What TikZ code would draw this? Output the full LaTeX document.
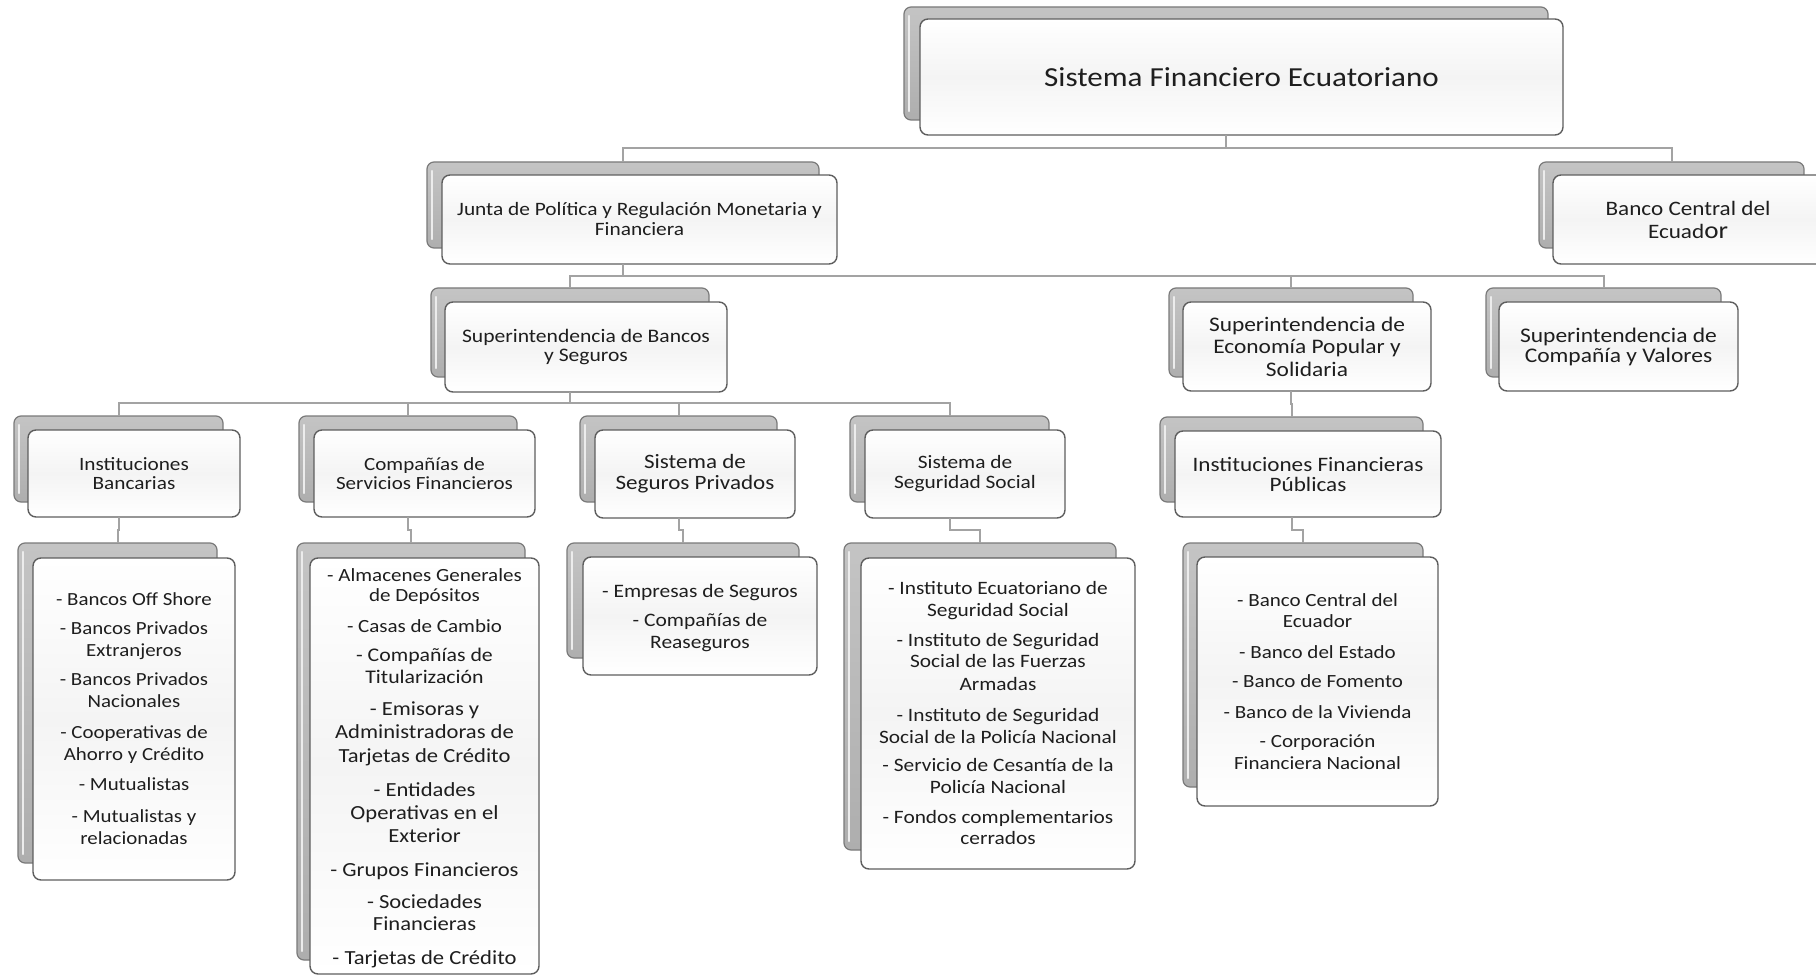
\documentclass[tikz,border=0pt]{standalone}
\usepackage{fontspec}
\setmainfont{Carlito}[FakeStretch=1.13]
\usetikzlibrary{fit}
\definecolor{conncol}{HTML}{A3A3A3}
\definecolor{backtop}{HTML}{C4C4C4}
\definecolor{backbot}{HTML}{AEAEAE}
\definecolor{backline}{HTML}{7A7A7A}
\definecolor{frontline}{HTML}{5E5E5E}
\definecolor{frontmid}{HTML}{F4F4F4}
\definecolor{hilite}{HTML}{ECECEC}
\definecolor{txt}{HTML}{1E1E1E}
\newcommand\setfs[2]{\fontsize{#1}{#2}\selectfont\lineskiplimit=-100pt\relax}
\newcommand\Lg{\fontsize{20}{20}\selectfont}
\newcommand\Md{\fontsize{19.3}{20}\selectfont}
\tikzset{
  backbox/.style={draw=backline, line width=1.2, rounded corners=7, top color=backtop, bottom color=backbot, inner sep=0pt, outer sep=0pt},
  frontbox/.style={draw=frontline, line width=1.4, rounded corners=8, top color=white, bottom color=white, middle color=frontmid, inner sep=0pt, outer sep=0pt},
  boxtext/.style={inner sep=0pt, align=center, text=txt, anchor=center},
  conn/.style={draw=conncol, line width=2},
  bevel/.style={draw=hilite, line width=2.2, line cap=round},
}
\begin{document}
\begin{tikzpicture}[x=1pt,y=-1pt]
\useasboundingbox (0,0) rectangle (1816,976);
\fill[white] (0,0) rectangle (1816,976);

% back boxes
\node[backbox, fit={(904,7) (1548,120)}] (mainB) {};
\node[backbox, fit={(427,162) (819,248)}] (junB) {};
\node[backbox, fit={(1539,162) (1804,248)}] (bceB) {};
\node[backbox, fit={(431,288) (709,377)}] (sbsB) {};
\node[backbox, fit={(1169,288) (1413,377)}] (sepsB) {};
\node[backbox, fit={(1486,288) (1721,377)}] (scvB) {};
\node[backbox, fit={(14,416) (223,502)}] (ibB) {};
\node[backbox, fit={(299,416) (517,502)}] (csfB) {};
\node[backbox, fit={(580,416) (777,502)}] (sspB) {};
\node[backbox, fit={(850,416) (1049,502)}] (sssB) {};
\node[backbox, fit={(1160,417) (1423,502)}] (ifpB) {};
\node[backbox, fit={(18,543) (217,863)}] (ibcB) {};
\node[backbox, fit={(297,543) (525,960)}] (csfcB) {};
\node[backbox, fit={(567,543) (799,658)}] (sspcB) {};
\node[backbox, fit={(844,543) (1116,850)}] (ssscB) {};
\node[backbox, fit={(1183,543) (1423,787)}] (ifpcB) {};
\foreach \n in {mainB,junB,bceB,sbsB,sepsB,scvB,ibB,csfB,sspB,sssB,ifpB,ibcB,csfcB,sspcB,ssscB,ifpcB}
  \draw[bevel] ([xshift=5pt,yshift=-9pt]\n.north west) -- ([xshift=5pt,yshift=9pt]\n.south west);

% level 0
\node[frontbox, fit={(920,19) (1563,135)}] (mainF) {};
\node[boxtext, font=\setfs{27.5}{30}] (mainT) at (mainF.center) {Sistema Financiero Ecuatoriano};

% level 1
\node[frontbox, fit={(442,175) (837,264)}] (junF) {};
\node[boxtext, font=\setfs{18.9}{20}] (junT) at (junF.center) {Junta de Política y Regulación Monetaria y\\Financiera};
\node[frontbox, fit={(1553,175) (1830,264)}] (bceF) {};
\node[boxtext, font=\setfs{20.5}{23}] (bceT) at (1688,219.5) {Banco Central del\\Ecuad{\fontsize{24}{24}\selectfont or}};

% level 2
\node[frontbox, fit={(445,302) (727,392)}] (sbsF) {};
\node[boxtext, font=\setfs{19.1}{19}] (sbsT) at (sbsF.center) {Superintendencia de Bancos\\y Seguros};
\node[frontbox, fit={(1183,302) (1431,391)}] (sepsF) {};
\node[boxtext, font=\setfs{20.7}{22.5}] (sepsT) at (sepsF.center) {Superintendencia de\\Economía Popular y\\Solidaria};
\node[frontbox, fit={(1499,302) (1738,391)}] (scvF) {};
\node[boxtext, font=\setfs{20.8}{20}] (scvT) at (scvF.center) {Superintendencia de\\Compañía y Valores};

% level 3
\node[frontbox, fit={(28,430) (240,517)}] (ibF) {};
\node[boxtext, font=\setfs{18.8}{18.5}] (ibT) at (ibF.center) {Instituciones\\Bancarias};
\node[frontbox, fit={(314,430) (535,517)}] (csfF) {};
\node[boxtext, font=\setfs{18.6}{18.5}] (csfT) at (csfF.center) {Compañías de\\Servicios Financieros};
\node[frontbox, fit={(595,430) (795,518)}] (sspF) {};
\node[boxtext, font=\setfs{20.4}{21}] (sspT) at (sspF.center) {Sistema de\\Seguros Privados};
\node[frontbox, fit={(865,430) (1065,518)}] (sssF) {};
\node[boxtext, font=\setfs{18.9}{20}] (sssT) at (sssF.center) {Sistema de\\Seguridad Social};
\node[frontbox, fit={(1175,431) (1441,517)}] (ifpF) {};
\node[boxtext, font=\setfs{20.5}{20}] (ifpT) at (ifpF.center) {Instituciones Financieras\\Públicas};

% level 4 (lists)
\node[frontbox, fit={(33,558) (235,880)}] (ibcF) {};
\node[boxtext, font=\setfs{18.5}{22}] (ibcT) at (ibcF.center) {- Bancos Off Shore\\[7pt]- Bancos Privados\\Extranjeros\\[7pt]- Bancos Privados\\Nacionales\\[9pt]- Cooperativas de\\Ahorro y Crédito\\[8pt]- Mutualistas\\[10pt]- Mutualistas y\\relacionadas};

\node[frontbox, fit={(310,558) (539,974)}] (csfcF) {};
\node[boxtext, font=\setfs{18.6}{20}] (csfcT) at ([yshift=-2pt]csfcF.center) {- Almacenes Generales\\de Depósitos\\[11pt]- Casas de Cambio\\[9pt]\Md - Compañías de\\[2pt]\Md Titularización\\[12pt]\Lg - Emisoras y\\[3pt]\Lg Administradoras de\\[4pt]\Lg Tarjetas de Crédito\\[14pt]\Lg - Entidades\\[3pt]\Lg Operativas en el\\[3pt]\Lg Exterior\\[14pt]\Lg - Grupos Financieros\\[12pt]\Lg - Sociedades\\[2pt]\Lg Financieras\\[14pt]\Lg - Tarjetas de Crédito};

\node[frontbox, fit={(583,557) (817,675)}] (sspcF) {};
\node[boxtext, font=\setfs{19}{22}] (sspcT) at ([yshift=-2pt]sspcF.center) {- Empresas de Seguros\\[7pt]- Compañías de\\Reaseguros};

\node[frontbox, fit={(861,558) (1135,869)}] (ssscF) {};
\node[boxtext, font=\setfs{18.9}{21.5}] (ssscT) at (ssscF.center) {- Instituto Ecuatoriano de\\Seguridad Social\\[8.5pt]- Instituto de Seguridad\\Social de las Fuerzas\\[1.5pt]Armadas\\[9.5pt]- Instituto de Seguridad\\[0.5pt]Social de la Policía Nacional\\[6.5pt]- Servicio de Cesantía de la\\Policía Nacional\\[8.5pt]- Fondos complementarios\\cerrados};

\node[frontbox, fit={(1197,557) (1438,806)}] (ifpcF) {};
\node[boxtext, font=\setfs{18.6}{20.5}] (ifpcT) at (ifpcF.center) {- Banco Central del\\Ecuador\\[10.5pt]- Banco del Estado\\[8.5pt]- Banco de Fomento\\[10.5pt]- Banco de la Vivienda\\[8.5pt]- Corporación\\[1.5pt]Financiera Nacional};

% connectors
\draw[conn] (mainB |- mainF.south) -- (mainB |- 0,148) -| (junB.north);
\draw[conn] (mainB |- 0,148) -| (bceB.north);
\draw[conn] (junB |- junF.south) -- (junB |- 0,276) -| (sbsB.north);
\draw[conn] (junB |- 0,276) -| (sepsB.north);
\draw[conn] (junB |- 0,276) -| (scvB.north);
\draw[conn] (sbsB |- sbsF.south) -- (sbsB |- 0,403) -| (ibB.north);
\draw[conn] (sbsB |- 0,403) -| (csfB.north);
\draw[conn] (sbsB |- 0,403) -| (sspB.north);
\draw[conn] (sbsB |- 0,403) -| (sssB.north);
\draw[conn] (sepsB |- sepsF.south) -- (sepsB |- 0,404) -| (ifpB.north);
\draw[conn] (ibB |- ibF.south) -- (ibB |- 0,530) -| (ibcB.north);
\draw[conn] (csfB |- csfF.south) -- (csfB |- 0,530) -| (csfcB.north);
\draw[conn] (sspB |- sspF.south) -- (sspB |- 0,530) -| (sspcB.north);
\draw[conn] (sssB |- sssF.south) -- (sssB |- 0,530) -| (ssscB.north);
\draw[conn] (ifpB |- ifpF.south) -- (ifpB |- 0,530) -| (ifpcB.north);
\end{tikzpicture}
\end{document}
